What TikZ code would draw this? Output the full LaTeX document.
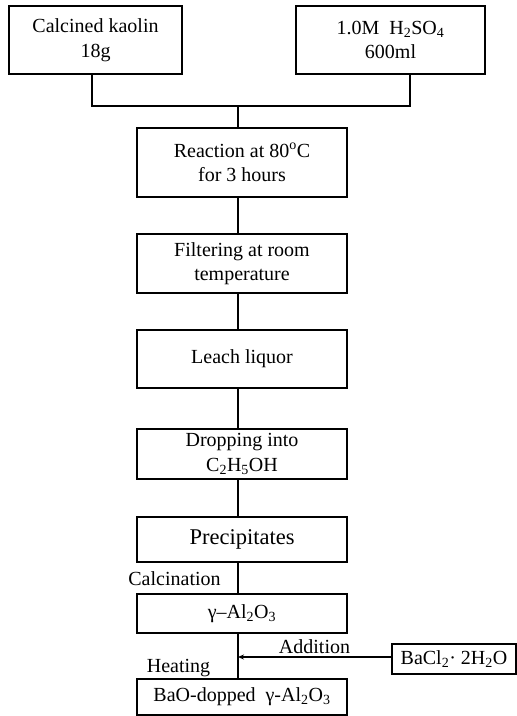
\documentclass[tikz,border=0pt]{standalone}
\usepackage{fontspec}
\setmainfont{Liberation Serif}
\usetikzlibrary{arrows.meta,positioning,calc}

\tikzset{
  stepbox/.style={draw,line width=1.3pt,align=center,inner sep=0pt,font=\fontsize{20}{24.5}\selectfont},
  tag/.style={font=\fontsize{20}{22}\selectfont,inner sep=0pt},
  link/.style={line width=1.2pt}
}
\newcommand{\sub}[1]{\textsubscript{#1}}

\begin{document}
\begin{tikzpicture}[x=1pt,y=-1pt]
  \useasboundingbox (0,0) rectangle (517,716);
  % starting materials
  \node[stepbox,minimum width=173pt,minimum height=68pt] (kaolin) at (95.5,40) {Calcined kaolin\\18g};
  \node[stepbox,minimum width=189pt,minimum height=68pt] (acid) at (390.5,40) {1.0M\ \ H\sub{2}SO\sub{4}\\600ml};
  % main chain of steps
  \node[stepbox,minimum width=210pt,minimum height=69pt] (react) at (242,162.5) {Reaction at 80\textsuperscript{o}C\\for 3 hours};
  \node[stepbox,minimum width=210pt,minimum height=59pt] (filter) at (242,263.5) {Filtering at room\\temperature};
  \node[stepbox,minimum width=210pt,minimum height=58pt] (liquor) at (242,359) {Leach liquor};
  \node[stepbox,minimum width=210pt,minimum height=50pt] (drop) at (242,454) {Dropping into\\C\sub{2}H\sub{5}OH};
  \node[stepbox,minimum width=210pt,minimum height=45pt,font=\fontsize{22.5}{25}\selectfont] (precip) at (242,539.5) {Precipitates};
  \node[stepbox,minimum width=210pt,minimum height=39pt] (alumina) at (242,613.5) {γ--Al\sub{2}O\sub{3}};
  \node[stepbox,minimum width=210pt,minimum height=36pt] (doped) at (242,697) {BaO-dopped\ \ γ-Al\sub{2}O\sub{3}};
  \node[stepbox,minimum width=124pt,minimum height=30pt] (bacl) at (454,659) {BaCl\sub{2}·\ 2H\sub{2}O};

  \coordinate (join) at (238,106);
  \coordinate (meet) at (238,657);

  \draw[link] (kaolin.south -| 92,0) |- (join);
  \draw[link] (acid.south -| 410,0) |- (join);
  \draw[link] (join) -- (react.north -| join);
  \draw[link] (react.south -| join) -- (filter.north -| join);
  \draw[link] (filter.south -| join) -- (liquor.north -| join);
  \draw[link] (liquor.south -| join) -- (drop.north -| join);
  \draw[link] (drop.south -| join) -- (precip.north -| join);
  \draw[link] (precip.south -| join) -- (alumina.north -| join);
  \draw[link] (alumina.south -| join) -- (doped.north -| join);
  \draw[link,-{Stealth[length=6pt,width=5pt]}] (bacl.west |- meet) -- (meet);

  \node[tag] (calc) at (174.5,579) {Calcination};
  \node[tag] (heat) at (178.5,668) {Heating};
  \node[tag] (add) at (314.5,647) {Addition};
\end{tikzpicture}
\end{document}
